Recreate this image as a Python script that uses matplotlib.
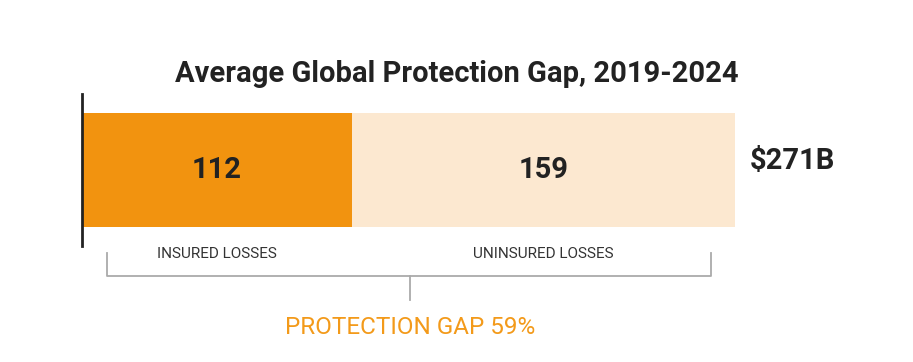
import matplotlib.pyplot as plt
from matplotlib.lines import Line2D

plt.rcParams['font.family'] = ['Roboto', 'DejaVu Sans']

segments = ["INSURED LOSSES", "UNINSURED LOSSES"]
values = [112, 159]
colors = ["#F2930F", "#FCE8D0"]
title = "Average Global Protection Gap, 2019-2024"
total_label = "$271B"
gap_label = "PROTECTION GAP 59%"

W, H = 913, 362
fig = plt.figure(figsize=(W / 100, H / 100), dpi=100)


def fx(px):
    return px / W


def fy(py):
    return 1 - py / H


ax = fig.add_axes([fx(82), fy(246), fx(735) - fx(82), fy(94) - fy(246)])
left = 0
for name, v, c in zip(segments, values, colors):
    ax.barh(0, v, left=left, height=1.0, color=c, edgecolor="none")
    ax.text(left + v / 2, 0, str(v), ha="center", va="center",
            fontsize=21, fontweight="bold", color="#222222")
    left += v
ax.set_xlim(0, sum(values))
ax.set_ylim(-0.667, 0.667)
for s in ["top", "right", "bottom"]:
    ax.spines[s].set_visible(False)
ax.spines["left"].set_linewidth(2)
ax.spines["left"].set_color("#222222")
ax.set_xticks([])
ax.set_yticks([])

# segment labels under the bar
left = 0
for name, v in zip(segments, values):
    ax.text(left + v / 2, -0.74, name, ha="center", va="center",
            fontsize=11, color="#333333", transform=ax.transData)
    left += v

fig.text(fx(457), fy(74), title, ha="center", va="center",
         fontsize=21, fontweight="bold", color="#222222")
fig.text(fx(750), fy(161), total_label, ha="left", va="center",
         fontsize=21, fontweight="bold", color="#222222")

# bracket
gray = "#AAAAAA"
bx0, bx1, bmid = 107, 711, 410
fig.add_artist(Line2D([fx(bx0), fx(bx0), fx(bx1), fx(bx1)],
                      [fy(253), fy(276), fy(276), fy(253)],
                      color=gray, lw=1.3, transform=fig.transFigure))
fig.add_artist(Line2D([fx(bmid), fx(bmid)], [fy(276), fy(300)],
                      color=gray, lw=1.3, transform=fig.transFigure))

fig.text(fx(bmid), fy(327), gap_label, ha="center", va="center",
         fontsize=17.5, color="#F39A1A")

fig.savefig("out.png", dpi=100)
